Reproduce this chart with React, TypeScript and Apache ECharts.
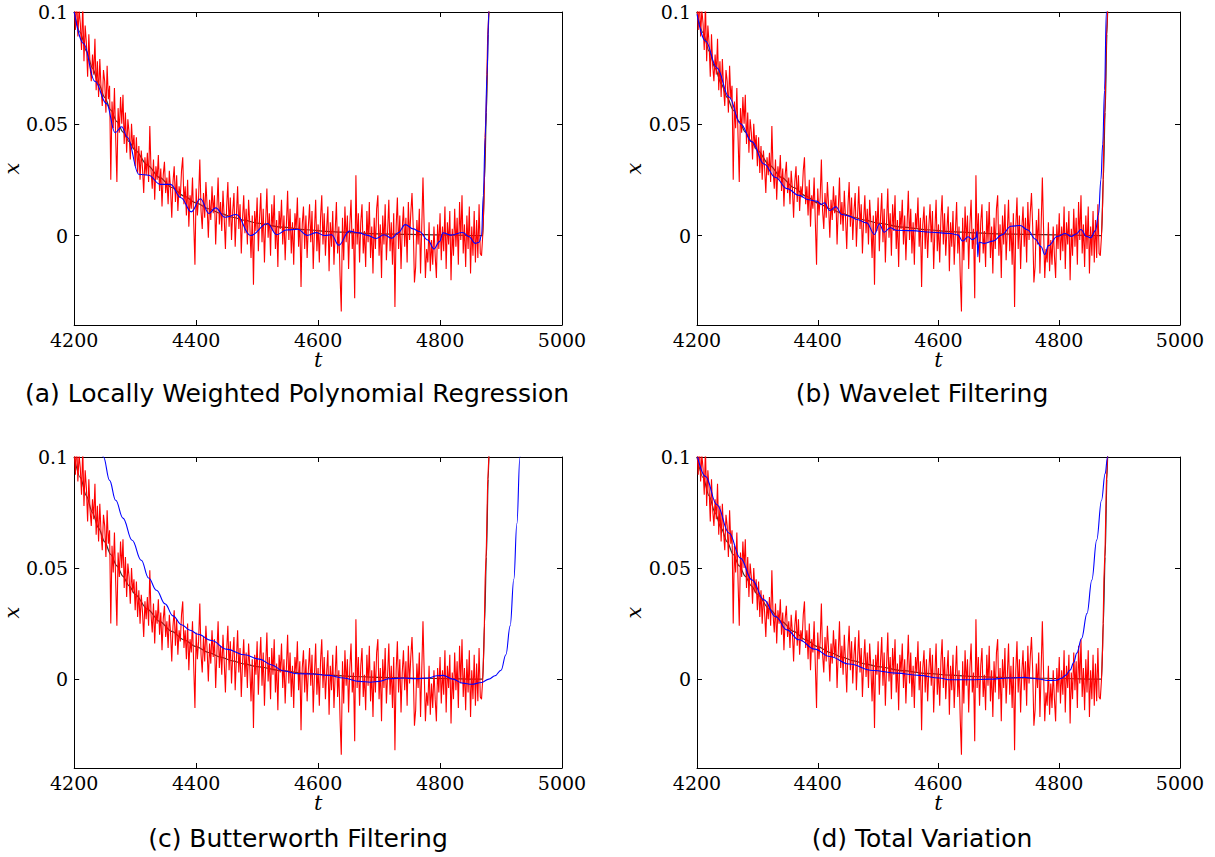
import React, { useEffect, useRef } from "react";
import * as echarts from "echarts";

// ---------- data ----------
// noisy measurement (red), sampled every 2 time units from t = 4200 to 4868
const noisyStart = 4200;
const noisyStep = 2;
const noisyValues = [
  0.104, 0.092, 0.108, 0.089, 0.101, 0.095, 0.083, 0.104, 0.078, 0.094,
  0.086, 0.071, 0.090, 0.076, 0.069, 0.081, 0.072, 0.088, 0.065, 0.078,
  0.062, 0.079, 0.066, 0.058, 0.074, 0.069, 0.055, 0.076, 0.061, 0.067,
  0.025, 0.060, 0.048, 0.066, 0.044, 0.024, 0.057, 0.046, 0.062, 0.050,
  0.063, 0.041, 0.055, 0.037, 0.052, 0.046, 0.034, 0.050, 0.039, 0.045,
  0.031, 0.044, 0.028, 0.040, 0.025, 0.038, 0.030, 0.019, 0.035, 0.027,
  0.037, 0.024, 0.049, 0.029, 0.021, 0.034, 0.016, 0.031, 0.025, 0.036,
  0.020, 0.030, 0.013, 0.027, 0.033, 0.019, 0.026, 0.014, 0.029, 0.021,
  0.008, 0.024, 0.031, 0.015, 0.027, 0.011, 0.022, 0.017, 0.029, 0.035,
  0.014, 0.022, 0.009, 0.025, 0.004, 0.018, 0.012, 0.026, 0.006, -0.013,
  0.021, 0.009, 0.017, 0.034, 0.011, 0.003, 0.019, 0.008, 0.024, 0.013,
  -0.001, 0.016, 0.007, 0.022, 0.010, 0.018, -0.004, 0.012, 0.026, 0.005,
  0.015, 0.002, 0.020, 0.008, -0.006, 0.013, 0.024, 0.004, 0.017, -0.002,
  0.011, 0.019, -0.005, 0.009, 0.022, 0.003, 0.014, -0.008, 0.007, 0.018,
  0.001, 0.012, -0.004, 0.016, 0.005, -0.010, 0.009, -0.022, 0.011, 0.002,
  0.017, -0.007, 0.008, 0.019, -0.003, 0.012, -0.012, 0.006, 0.021, -0.001,
  0.010, -0.009, 0.014, 0.002, 0.018, -0.006, 0.007, -0.014, 0.011, 0.003,
  0.016, -0.004, 0.009, -0.011, 0.005, 0.020, -0.002, 0.012, -0.008, 0.006,
  -0.013, 0.010, 0.003, 0.017, -0.005, 0.008, -0.023, 0.005, 0.013, -0.006,
  0.009, -0.010, 0.004, 0.014, -0.003, 0.011, -0.015, 0.002, 0.016, -0.007,
  0.005, -0.012, 0.008, 0.018, -0.004, 0.010, -0.009, 0.003, 0.013, -0.016,
  0.006, -0.005, 0.011, -0.013, 0.002, 0.015, -0.008, 0.004, -0.018, -0.034,
  0.008, -0.011, 0.013, -0.003, 0.009, -0.015, 0.005, 0.016, -0.006, 0.003,
  -0.028, 0.027, -0.004, 0.010, -0.012, 0.006, 0.014, -0.008, 0.002, -0.014,
  0.011, -0.003, 0.015, -0.010, 0.004, -0.017, 0.008, -0.006, 0.012, 0.018,
  -0.009, 0.005, -0.019, 0.009, -0.004, 0.014, -0.011, 0.002, 0.016, -0.007,
  0.006, -0.013, 0.010, -0.032, 0.004, 0.017, -0.006, 0.009, -0.015, 0.003,
  0.013, -0.005, 0.008, -0.012, 0.015, -0.002, 0.010, 0.019, 0.004, -0.021,
  -0.014, 0.007, -0.004, 0.012, -0.017, 0.004, 0.026, 0.003, -0.019, -0.006,
  -0.012, 0.006, -0.016, -0.002, -0.013, 0.004, -0.009, -0.019, 0.005, -0.006,
  0.010, -0.011, 0.004, -0.007, 0.013, -0.015, 0.006, -0.004, 0.011, -0.020,
  0.003, -0.009, 0.012, -0.005, 0.008, -0.013, 0.015, -0.002, 0.018, -0.008,
  0.005, -0.014, 0.009, -0.006, 0.013, -0.017, 0.004, -0.009, 0.011, -0.012,
  0.007, -0.010, 0.014, -0.008, -0.009,
];
// steep rise of the measurement at the end
const noisyRiseT = [4870, 4872, 4874, 4876, 4878, 4880, 4882];
const noisyRiseV = [0.0, 0.015, 0.045, 0.06, 0.088, 0.1, 0.125];

// underlying true signal (black)
const trueT = [4200, 4210, 4220, 4230, 4240, 4250, 4260, 4270, 4280, 4290, 4300, 4320, 4340, 4360, 4380, 4400, 4420, 4440, 4460, 4480, 4500, 4540, 4580, 4620, 4660, 4700, 4750, 4800, 4870, 4873, 4876, 4879, 4882];
const trueV = [0.1, 0.0908, 0.0825, 0.0749, 0.068, 0.0618, 0.0561, 0.051, 0.0463, 0.042, 0.0382, 0.0315, 0.026, 0.0215, 0.0177, 0.0146, 0.012, 0.0099, 0.0082, 0.0068, 0.0056, 0.0038, 0.0026, 0.0018, 0.0012, 0.0008, 0.0005, 0.0003, 0.0, 0.025, 0.055, 0.09, 0.125];

// (a) locally weighted polynomial regression (blue)
const lowessT = [4200, 4215, 4234, 4253, 4267, 4278, 4287, 4306, 4322, 4341, 4358, 4375, 4392, 4407, 4421, 4432, 4447, 4466, 4489, 4517, 4532, 4548, 4567, 4582, 4597, 4611, 4622, 4634, 4651, 4667, 4680, 4695, 4708, 4721, 4731, 4743, 4756, 4766, 4780, 4790, 4799, 4805, 4818, 4837, 4847, 4858, 4864, 4868, 4871, 4874, 4877, 4880, 4882];
const lowessV = [0.1, 0.086, 0.069, 0.059, 0.046, 0.0487, 0.044, 0.0274, 0.027, 0.0229, 0.0229, 0.0169, 0.0106, 0.0165, 0.0099, 0.0124, 0.0082, 0.0094, 0.0, 0.0054, 0.0004, 0.0025, 0.0028, 0.0001, 0.0013, 0.0, 0.0004, -0.0043, 0.002, 0.0012, 0.0002, -0.0013, 0.0004, -0.0012, 0.0012, 0.0049, 0.003, 0.0018, -0.002, -0.006, -0.0027, 0.0012, 0.0002, 0.0014, -0.0004, -0.0035, -0.003, 0.0, 0.018, 0.044, 0.072, 0.1, 0.125];

// (b) wavelet filtering (blue)
const waveletT = [4200, 4214, 4233, 4253, 4272, 4291, 4311, 4330, 4349, 4369, 4385, 4398, 4406, 4411, 4420, 4430, 4440, 4452, 4465, 4481, 4494, 4502, 4510, 4520, 4530, 4556, 4588, 4620, 4632, 4640, 4649, 4656, 4662, 4664, 4665, 4667, 4676, 4690, 4705, 4720, 4735, 4748, 4760, 4770, 4776, 4782, 4797, 4810, 4820, 4828, 4836, 4845, 4852, 4860, 4865, 4869, 4872, 4875, 4878, 4880];
const waveletV = [0.099, 0.087, 0.075, 0.062, 0.05, 0.042, 0.032, 0.026, 0.021, 0.018, 0.016, 0.0154, 0.0139, 0.0147, 0.0112, 0.0129, 0.0094, 0.0087, 0.0072, 0.0057, 0.0005, 0.0052, 0.0015, 0.0035, 0.0024, 0.0022, 0.0015, 0.0009, 0.0003, -0.0025, -0.0005, -0.0018, -0.001, 0.002, -0.0095, -0.003, -0.0035, -0.0025, 0.0003, 0.0042, 0.0045, 0.0025, -0.0015, -0.005, -0.0085, -0.0045, -0.0003, 0.0009, -0.0004, 0.0007, 0.0027, -0.0003, -0.001, 0.0022, 0.0094, 0.025, 0.041, 0.065, 0.1, 0.125];

// (c) Butterworth filtering (blue)
const butterT = [4240, 4248, 4258, 4268, 4280, 4295, 4310, 4322, 4335, 4349, 4362, 4376, 4390, 4403, 4425, 4450, 4479, 4504, 4523, 4542, 4567, 4592, 4617, 4642, 4667, 4686, 4700, 4717, 4740, 4760, 4780, 4795, 4805, 4821, 4837, 4852, 4868, 4880, 4890, 4900, 4908, 4915, 4921, 4926, 4931, 4934];
const butterV = [0.115, 0.1, 0.0895, 0.0805, 0.0725, 0.0625, 0.0535, 0.0455, 0.04, 0.0339, 0.0285, 0.0245, 0.022, 0.0202, 0.0174, 0.0135, 0.011, 0.009, 0.0065, 0.0038, 0.0024, 0.0023, 0.0017, 0.0005, -0.001, -0.0014, -0.001, 0.0002, 0.0005, 0.0002, 0.0005, 0.0015, 0.0017, 0.0, -0.0018, -0.0023, -0.0015, 0.0, 0.0015, 0.004, 0.011, 0.024, 0.045, 0.07, 0.1, 0.125];

// (d) total variation (blue)
const tvT = [4201, 4214, 4233, 4253, 4272, 4291, 4311, 4330, 4349, 4369, 4395, 4420, 4452, 4491, 4530, 4568, 4601, 4620, 4652, 4684, 4717, 4742, 4762, 4781, 4795, 4804, 4811, 4818, 4824, 4829, 4837, 4846, 4854, 4862, 4870, 4876, 4880, 4882];
const tvV = [0.1, 0.0913, 0.0785, 0.0658, 0.0545, 0.0447, 0.0357, 0.0282, 0.0222, 0.0177, 0.0135, 0.0102, 0.0068, 0.0039, 0.0027, 0.0017, 0.0005, -0.0003, -0.0003, 0.0, 0.0005, 0.0008, 0.0002, -0.0006, -0.0005, 0.0004, 0.0018, 0.0041, 0.0075, 0.0117, 0.0183, 0.0296, 0.0446, 0.0626, 0.0805, 0.0925, 0.1, 0.11];

const xMin = 4200;
const xMax = 5000;
const xStep = 200;
const yMin = -0.04;
const yMax = 0.1;
const yTickValues = [0, 0.05, 0.1];
const captions = [
  "(a) Locally Weighted Polynomial Regression",
  "(b) Wavelet Filtering",
  "(c) Butterworth Filtering",
  "(d) Total Variation",
];
const filteredT = [lowessT, waveletT, butterT, tvT];
const filteredV = [lowessV, waveletV, butterV, tvV];

function pairs(t: number[], v: number[]) {
  return t.map((x, i) => [x, v[i]]);
}

export default function App() {
  const ref = useRef<HTMLDivElement>(null);

  useEffect(() => {
    if (!ref.current) return;
    const chart = echarts.init(ref.current, undefined, { renderer: "svg" });

    const grids = [
      { left: 68, top: 12, width: 494, height: 313 },
      { left: 697, top: 12, width: 483, height: 313 },
      { left: 68, top: 457, width: 494, height: 311 },
      { left: 697, top: 457, width: 483, height: 311 },
    ];
    const captionPos = [
      [297, 393],
      [922, 393],
      [298, 838],
      [922, 838],
    ];

    const serif = "DejaVu Serif";
    const sans = "DejaVu Sans";
    const lineBlack = { show: true, onZero: false, lineStyle: { color: "#000", width: 1 } };
    const tickIn = { show: true, inside: true, length: 5, lineStyle: { color: "#000", width: 1 } };
    const labelStyle = {
      color: "#000",
      fontFamily: serif,
      fontSize: 19,
      fontStyle: "normal",
      fontWeight: "normal",
    };
    const nameStyle = {
      color: "#000",
      fontFamily: serif,
      fontStyle: "italic",
      fontWeight: "normal",
      fontSize: 21,
    };

    const noisy = noisyValues
      .map((v, i) => [noisyStart + noisyStep * i, v])
      .concat(pairs(noisyRiseT, noisyRiseV));
    const truth = pairs(trueT, trueV);

    const xAxis: any[] = [];
    const yAxis: any[] = [];
    const series: any[] = [];

    grids.forEach((g, i) => {
      xAxis.push({
        type: "value",
        gridIndex: i,
        position: "bottom",
        min: xMin,
        max: xMax,
        interval: xStep,
        axisLine: lineBlack,
        axisTick: tickIn,
        splitLine: { show: false },
        axisLabel: { ...labelStyle, margin: 5, formatter: (v: number) => String(v) },
        name: "t",
        nameLocation: "middle",
        nameGap: 21,
        nameTextStyle: nameStyle,
      });
      xAxis.push({
        type: "value",
        gridIndex: i,
        position: "top",
        min: xMin,
        max: xMax,
        interval: xStep,
        axisLine: lineBlack,
        axisTick: tickIn,
        splitLine: { show: false },
        axisLabel: { show: false },
      });
      yAxis.push({
        type: "value",
        gridIndex: i,
        position: "left",
        min: yMin,
        max: yMax,
        axisLine: lineBlack,
        axisTick: { ...tickIn, customValues: yTickValues },
        splitLine: { show: false },
        axisLabel: {
          ...labelStyle,
          margin: 6,
          customValues: yTickValues,
          formatter: (v: number) => String(v),
        },
        name: "x",
        nameLocation: "middle",
        nameGap: 47,
        nameRotate: 90,
        nameTextStyle: nameStyle,
      });
      yAxis.push({
        type: "value",
        gridIndex: i,
        position: "right",
        min: yMin,
        max: yMax,
        axisLine: lineBlack,
        axisTick: { ...tickIn, customValues: yTickValues },
        splitLine: { show: false },
        axisLabel: { show: false },
      });

      const common = {
        type: "line",
        xAxisIndex: 2 * i,
        yAxisIndex: 2 * i,
        showSymbol: false,
        symbol: "none",
        clip: true,
        silent: true,
      };
      series.push({
        ...common,
        name: "true" + i,
        data: truth,
        smooth: 0.3,
        smoothMonotone: "x",
        lineStyle: { color: "#333", width: 1.2 },
        z: 1,
      });
      series.push({
        ...common,
        name: "noisy" + i,
        data: noisy,
        lineStyle: { color: "#ff0000", width: 1.1 },
        z: 2,
      });
      series.push({
        ...common,
        name: "filtered" + i,
        data: pairs(filteredT[i], filteredV[i]),
        smooth: 0.4,
        smoothMonotone: "x",
        lineStyle: { color: "#0000ff", width: 1.1 },
        z: 3,
      });
    });

    const graphic = captions.map((c, i) => ({
      type: "text",
      x: captionPos[i][0],
      y: captionPos[i][1],
      style: {
        text: c,
        fill: "#000",
        fontSize: 25,
        fontFamily: sans,
        align: "center",
        verticalAlign: "middle",
      },
    }));

    chart.setOption({
      animation: false,
      backgroundColor: "#fff",
      textStyle: { fontFamily: serif },
      grid: grids.map((g) => ({ ...g, containLabel: false, show: false })),
      xAxis,
      yAxis,
      series,
      graphic,
    });

    return () => chart.dispose();
  }, []);

  return (
    <div
      ref={ref}
      style={{ position: "absolute", left: 0, top: 0, width: 1215, height: 857, background: "#fff" }}
    />
  );
}
